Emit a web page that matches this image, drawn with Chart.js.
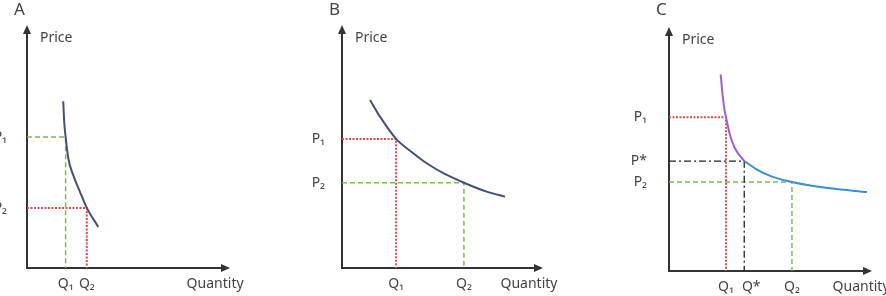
<!DOCTYPE html>
<html>
<head>
<meta charset="utf-8">
<script src="https://cdn.jsdelivr.net/npm/chart.js@4/dist/chart.umd.min.js"></script>
<style>
  html, body { margin: 0; background: #fff; overflow: hidden; }
  canvas { position: absolute; top: 0; }
</style>
</head>
<body>
<canvas id="chartA" width="290" height="296" style="left:0px"></canvas>
<canvas id="chartB" width="296" height="296" style="left:290px"></canvas>
<canvas id="chartC" width="310" height="296" style="left:590px"></canvas>
<script>
// painel A - demanda inelástica
const qA = [1.95, 3.02];
const pA = [6.61, 3.03];
const qLabelsA = ['Q₁', 'Q₂'];
const pLabelsA = ['P₁', 'P₂'];
const curveAq = [1.83, 1.88, 1.95, 2.09, 2.34, 2.68, 3.02, 3.60];
const curveAp = [8.41, 7.36, 6.61, 5.51, 4.67, 3.83, 3.03, 2.07];

// painel B - demanda elástica
const qB = [2.76, 6.22];
const pB = [6.51, 4.30];
const qLabelsB = ['Q₁', 'Q₂'];
const pLabelsB = ['P₁', 'P₂'];
const curveBq = [1.43, 1.94, 2.76, 3.62, 4.32, 5.17, 6.22, 7.38, 8.32];
const curveBp = [8.47, 7.63, 6.51, 5.80, 5.28, 4.78, 4.30, 3.85, 3.60];

// painel C - curva quebrada
const qC = [2.88, 3.80, 6.21];
const pC = [7.72, 5.52, 4.47];
const qLabelsC = ['Q₁', '\u2003Q*', 'Q₂'];
const pLabelsC = ['P₁', 'P*', 'P₂'];
const curveC1q = [2.61, 2.69, 2.79, 2.88, 3.08, 3.33, 3.80];
const curveC1p = [9.87, 9.00, 8.17, 7.72, 6.83, 6.16, 5.52];
const curveC2q = [3.80, 4.40, 5.20, 6.21, 7.20, 8.13, 10];
const curveC2p = [5.52, 5.12, 4.74, 4.47, 4.28, 4.15, 3.96];

const xMax = 10;
const yMax = 12;

const corAxis = '#333333';
const corTexto = '#444444';
const fonte = '"Noto Sans", "DejaVu Sans", sans-serif';

const estilos = {
  red:   { borderColor: '#e5484d', borderDash: [2, 1.5], borderWidth: 2 },
  green: { borderColor: '#78bf4a', borderDash: [5, 3], borderWidth: 1.5 },
  black: { borderColor: '#222222', borderDash: [7, 3, 2, 3], borderWidth: 1.3 }
};

function pares(xs, ys) {
  return xs.map((x, i) => ({ x: x, y: ys[i] }));
}

function guia(q, p, cor) {
  return Object.assign({
    data: [{ x: 0, y: p }, { x: q, y: p }, { x: q, y: 0 }],
    showLine: true,
    pointRadius: 0,
    tension: 0
  }, estilos[cor]);
}

function curva(xs, ys, cor) {
  return {
    data: pares(xs, ys),
    showLine: true,
    pointRadius: 0,
    borderColor: cor,
    borderWidth: 2,
    cubicInterpolationMode: 'monotone'
  };
}

// setas dos eixos, letra do painel e "Price"
const decoracao = {
  id: 'decoracao',
  afterDraw(chart, args, opts) {
    const ctx = chart.ctx;
    const a = chart.chartArea;
    ctx.save();
    ctx.fillStyle = corAxis;
    ctx.beginPath();
    ctx.moveTo(a.left, a.top - 5);
    ctx.lineTo(a.left - 4, a.top + 4);
    ctx.lineTo(a.left + 4, a.top + 4);
    ctx.closePath();
    ctx.fill();
    ctx.beginPath();
    ctx.moveTo(a.right + 5, a.bottom);
    ctx.lineTo(a.right - 4, a.bottom - 4);
    ctx.lineTo(a.right - 4, a.bottom + 4);
    ctx.closePath();
    ctx.fill();

    ctx.fillStyle = corTexto;
    ctx.textBaseline = 'middle';
    ctx.textAlign = 'left';
    ctx.font = '14px ' + fonte;
    ctx.fillText('Price', a.left + 13, a.top + 8);
    ctx.font = '17px ' + fonte;
    ctx.fillText(opts.letra, a.left - 13, 10);
    ctx.restore();
  }
};

function painel(id, cfg) {
  const canvas = document.getElementById(id);
  const W = canvas.width, H = canvas.height;
  const xTicks = cfg.q.concat([cfg.quantidadeEm]);
  const xLabels = cfg.qLabels.concat(['Quantity']);

  return new Chart(canvas.getContext('2d'), {
    type: 'scatter',
    data: { datasets: cfg.datasets },
    options: {
      responsive: false,
      animation: false,
      events: [],
      layout: { padding: { left: 0, right: W - cfg.area.r, top: cfg.area.t, bottom: 0 } },
      plugins: {
        legend: { display: false },
        tooltip: { enabled: false },
        decoracao: { letra: cfg.letra }
      },
      scales: {
        x: {
          type: 'linear',
          min: 0,
          max: xMax,
          grid: { display: false },
          border: { display: true, color: corAxis, width: 2 },
          afterBuildTicks: (s) => { s.ticks = xTicks.map(v => ({ value: v })); },
          afterFit: (s) => { s.height = H - cfg.area.b; s.paddingLeft = 0; s.paddingRight = 0; },
          ticks: {
            autoSkip: false,
            maxRotation: 0,
            padding: 0,
            color: corTexto,
            font: { family: fonte, size: 14 },
            callback: (v, i) => xLabels[i]
          }
        },
        y: {
          type: 'linear',
          min: 0,
          max: yMax,
          grid: { display: false },
          border: { display: true, color: corAxis, width: 2 },
          afterBuildTicks: (s) => { s.ticks = cfg.p.map(v => ({ value: v })); },
          afterFit: (s) => { s.width = cfg.area.l; s.paddingTop = 0; s.paddingBottom = 0; },
          ticks: {
            autoSkip: false,
            padding: cfg.yPad,
            color: corTexto,
            font: { family: fonte, size: 14 },
            callback: (v, i) => cfg.pLabels[i]
          }
        }
      }
    },
    plugins: [decoracao]
  });
}

painel('chartA', {
  letra: 'A',
  area: { l: 27, r: 225, t: 30, b: 268 },
  yPad: 12,
  q: qA, p: pA, qLabels: qLabelsA, pLabels: pLabelsA,
  quantidadeEm: 9.5,
  datasets: [
    curva(curveAq, curveAp, '#43507a'),
    guia(qA[1], pA[1], 'red'),
    guia(qA[0], pA[0], 'green')
  ]
});

painel('chartB', {
  letra: 'B',
  area: { l: 52, r: 248, t: 30, b: 268 },
  yPad: 9,
  q: qB, p: pB, qLabels: qLabelsB, pLabels: pLabelsB,
  quantidadeEm: 9.54,
  datasets: [
    curva(curveBq, curveBp, '#43507a'),
    guia(qB[0], pB[0], 'red'),
    guia(qB[1], pB[1], 'green')
  ]
});

painel('chartC', {
  letra: 'C',
  area: { l: 79, r: 277, t: 32, b: 271 },
  yPad: 14,
  q: qC, p: pC, qLabels: qLabelsC, pLabels: pLabelsC,
  quantidadeEm: 9.7,
  datasets: [
    curva(curveC1q, curveC1p, '#a05fd5'),
    curva(curveC2q, curveC2p, '#3b8fd9'),
    guia(qC[1], pC[1], 'black'),
    guia(qC[0], pC[0], 'red'),
    guia(qC[2], pC[2], 'green')
  ]
});
</script>
</body>
</html>
